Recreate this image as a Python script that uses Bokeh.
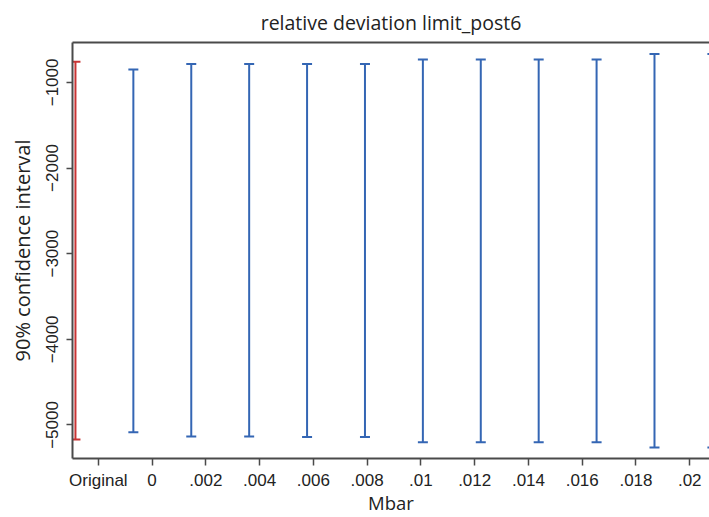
from bokeh.plotting import figure
from bokeh.models import Range1d, FixedTicker, LinearAxis, Whisker, TeeHead, ColumnDataSource
from bokeh.embed import file_html
from bokeh.resources import INLINE

# ---- data ----
tick_labels = ["Original", "0", ".002", ".004", ".006", ".008", ".01",
               ".012", ".014", ".016", ".018", ".02"]
mbar = [0.000, 0.002, 0.004, 0.006, 0.008, 0.010,
        0.012, 0.014, 0.016, 0.018, 0.020]
ci_lower = [-5085, -5135, -5135, -5140, -5140, -5202,
            -5202, -5202, -5202, -5264, -5265]
ci_upper = [-848, -785, -785, -785, -785, -732,
            -732, -732, -732, -669, -669]
orig_lower = [-5170]
orig_upper = [-759]

step = mbar[1] - mbar[0]
orig_x = [mbar[0] - step]

# axis label positions (Stata places labels on its own grid)
tick_start = -0.00121
tick_step = 0.0018571
tick_pos = [tick_start + k * tick_step for k in range(len(tick_labels))]

BLUE = "#3466b4"
RED = "#c83434"
AX = "#4a4a4a"

p = figure(width=709, height=517, output_backend="svg", toolbar_location=None,
           x_range=Range1d(-0.002102, 0.0199), y_range=Range1d(-5392, -534),
           min_border_left=72, min_border_right=0, min_border_top=42,
           min_border_bottom=58, x_axis_label="Mbar",
           y_axis_label="90% confidence interval",
           title="relative deviation limit_post6")

xa = p.below[0]
ya = p.left[0]

p.outline_line_color = None
p.background_fill_color = "white"
p.border_fill_color = "white"
p.xgrid.visible = False
p.ygrid.visible = False

p.title.align = "center"
p.title.text_font = "Open Sans"
p.title.text_font_size = "19.5px"
p.title.text_font_style = "normal"
p.title.text_color = "#222222"
p.title.standoff = 13

# top border line
top = LinearAxis(ticker=FixedTicker(ticks=[]), axis_line_color=AX, axis_line_width=2,
                 major_tick_out=0, major_tick_in=0, minor_tick_out=0, minor_tick_in=0,
                 major_label_standoff=0, major_label_text_font_size="0px")
p.add_layout(top, "above")

src = ColumnDataSource(dict(x=mbar, lo=ci_lower, hi=ci_upper))
osrc = ColumnDataSource(dict(x=orig_x, lo=orig_lower, hi=orig_upper))

for s, c in ((osrc, RED), (src, BLUE)):
    w = Whisker(source=s, base="x", lower="lo", upper="hi", dimension="height",
                line_color=c, line_width=2,
                upper_head=TeeHead(size=10, line_color=c, line_width=2),
                lower_head=TeeHead(size=10, line_color=c, line_width=2))
    p.add_layout(w)

# invisible glyph so ranges/data are associated
p.scatter(x="x", y="hi", source=src, size=0, alpha=0)

xa.ticker = FixedTicker(ticks=tick_pos)
xa.major_label_overrides = {t: l for t, l in zip(tick_pos, tick_labels)}
xa.minor_tick_line_color = None
xa.major_tick_out = 7
xa.major_tick_in = 0
xa.axis_line_color = AX
xa.axis_line_width = 2
xa.major_tick_line_color = AX
xa.major_tick_line_width = 1.5
xa.major_label_text_font = "Liberation Sans"
xa.major_label_text_font_size = "17px"
xa.major_label_text_color = "#222222"
xa.major_label_standoff = 5
xa.axis_label_text_font = "Open Sans"
xa.axis_label_text_font_size = "18.5px"
xa.axis_label_text_font_style = "normal"
xa.axis_label_text_color = "#222222"
xa.axis_label_text_baseline = "hanging"
xa.axis_label_standoff = -3

ya.ticker = FixedTicker(ticks=[-5000, -4000, -3000, -2000, -1000])
ya.minor_tick_line_color = None
ya.major_tick_out = 6
ya.major_tick_in = 0
ya.axis_line_color = AX
ya.axis_line_width = 2
ya.major_tick_line_color = AX
ya.major_tick_line_width = 1.5
ya.major_label_orientation = "vertical"
ya.major_label_text_font = "Liberation Sans"
ya.major_label_text_font_size = "17px"
ya.major_label_text_color = "#222222"
ya.major_label_standoff = 8
ya.axis_label_text_font = "Open Sans"
ya.axis_label_text_font_size = "20px"
ya.axis_label_text_font_style = "normal"
ya.axis_label_text_color = "#222222"
ya.axis_label_standoff = 8

open("out.html", "w").write(file_html(p, INLINE))
